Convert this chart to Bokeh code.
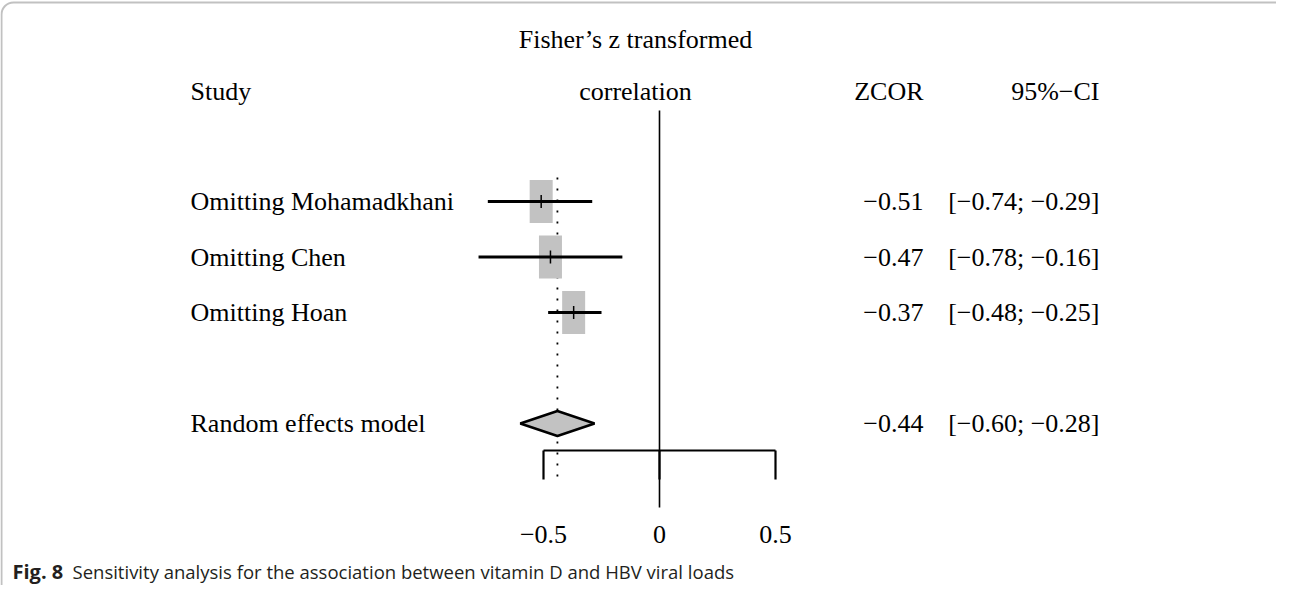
from bokeh.plotting import figure
from bokeh.models import ColumnDataSource, Range1d, BoxAnnotation
from bokeh.core.properties import value
from bokeh.embed import file_html
from bokeh.resources import INLINE

# ---- data ----
studies = ["Omitting Mohamadkhani", "Omitting Chen", "Omitting Hoan"]
zcor = [-0.51, -0.47, -0.37]
ci_lower = [-0.74, -0.78, -0.48]
ci_upper = [-0.29, -0.16, -0.25]
pooled_label = "Random effects model"
pooled_est = -0.44
pooled_lower = -0.60
pooled_upper = -0.28
tick_values = [-0.5, 0, 0.5]
tick_labels = ["\u22120.5", "0", "0.5"]
header_left = "Study"
header_mid = ["Fisher\u2019s z transformed", "correlation"]
header_zcor = "ZCOR"
header_ci = "95%\u2212CI"
caption_bold = "Fig. 8"
caption_text = "Sensitivity analysis for the association between vitamin D and HBV viral loads"

# ---- layout helpers (pixel -> data) ----
W, H = 1276, 585
PX_PER_UNIT = 232.0
X0_SCREEN = 667.0
ROW_PX = 55.5
ROW1_SCREEN = 209.0

def rx(sx):
    return (sx - X0_SCREEN) / PX_PER_UNIT

def ry(sy):
    return 1 + (sy - ROW1_SCREEN) / ROW_PX

def fmt(v):
    return f"{v:.2f}".replace("-", "\u2212")

p = figure(width=W, height=H, output_backend="svg", toolbar_location=None,
           x_range=Range1d(rx(8), rx(8 + W)), y_range=Range1d(ry(8 + H), ry(8)),
           x_axis_type=None, y_axis_type=None, min_border=0)
p.xgrid.visible = False
p.ygrid.visible = False
p.outline_line_color = None
p.background_fill_color = "white"
p.border_fill_color = "white"

FONT = value("Liberation Serif")
FS = "26px"

# frame with rounded corner
p.add_layout(BoxAnnotation(left=rx(9), right=rx(1330), top=ry(10), bottom=ry(700),
                           fill_alpha=0, line_color="#333333", line_width=2,
                           border_radius=12))

rows = list(range(1, len(studies) + 1))
pooled_row = len(studies) + 2

# reference lines
p.segment(x0=[0], y0=[ry(118)], x1=[0], y1=[ry(515)], line_color="black", line_width=1.6)
p.segment(x0=[pooled_est], y0=[ry(185)], x1=[pooled_est], y1=[ry(488)],
          line_color="black", line_width=1.8, line_dash="2 9")

# axis
p.segment(x0=[min(tick_values)], y0=[ry(458)], x1=[max(tick_values)], y1=[ry(458)],
          line_color="black", line_width=2.2)
p.segment(x0=tick_values, y0=[ry(458)] * 3, x1=tick_values, y1=[ry(487)] * 3,
          line_color="black", line_width=2.2)
p.text(x=tick_values, y=[ry(542)] * 3, text=tick_labels, text_font=FONT,
       text_font_size=FS, text_align="center", text_baseline="middle", text_color="black")

# study boxes and CIs
tick_h = 6.5 / ROW_PX
src = ColumnDataSource(dict(y=rows, est=zcor, lo=ci_lower, hi=ci_upper, name=studies,
                            y_top=[r - tick_h for r in rows], y_bot=[r + tick_h for r in rows],
                            zt=[fmt(v) for v in zcor],
                            ci=[f"[{fmt(a)}; {fmt(b)}]" for a, b in zip(ci_lower, ci_upper)]))
p.rect(x="est", y="y", width=23 / PX_PER_UNIT, height=43 / ROW_PX, source=src,
       fill_color="#c2c2c2", line_color=None)
p.segment(x0="lo", y0="y", x1="hi", y1="y", source=src, line_color="black", line_width=3)
p.segment(x0="est", y0="y_top", x1="est", y1="y_bot", source=src,
          line_color="black", line_width=1.5)

# diamond
h = 12.5 / ROW_PX
p.patch(x=[pooled_lower, pooled_est, pooled_upper, pooled_est],
        y=[pooled_row, pooled_row - h, pooled_row, pooled_row + h],
        fill_color="#c2c2c2", line_color="black", line_width=2.5)

# texts
p.text(x=rx(198), y="y", text="name", source=src, text_font=FONT, text_font_size=FS,
       text_align="left", text_baseline="middle", text_color="black")
p.text(x=rx(931), y="y", text="zt", source=src, text_font=FONT, text_font_size=FS,
       text_align="right", text_baseline="middle", text_color="black")
p.text(x=rx(1107), y="y", text="ci", source=src, text_font=FONT, text_font_size=FS,
       text_align="right", text_baseline="middle", text_color="black")

p.text(x=[rx(198)], y=[pooled_row], text=[pooled_label], text_font=FONT, text_font_size=FS,
       text_align="left", text_baseline="middle", text_color="black")
p.text(x=[rx(931)], y=[pooled_row], text=[fmt(pooled_est)], text_font=FONT, text_font_size=FS,
       text_align="right", text_baseline="middle", text_color="black")
p.text(x=[rx(1107)], y=[pooled_row], text=[f"[{fmt(pooled_lower)}; {fmt(pooled_upper)}]"],
       text_font=FONT, text_font_size=FS, text_align="right", text_baseline="middle",
       text_color="black")

# headers
p.text(x=[rx(198)], y=[ry(99)], text=[header_left], text_font=FONT, text_font_size=FS,
       text_align="left", text_baseline="middle", text_color="black")
p.text(x=[rx(643), rx(643)], y=[ry(47), ry(99)], text=header_mid, text_font=FONT,
       text_font_size=FS, text_align="center", text_baseline="middle", text_color="black")
p.text(x=[rx(931)], y=[ry(99)], text=[header_zcor], text_font=FONT, text_font_size=FS,
       text_align="right", text_baseline="middle", text_color="black")
p.text(x=[rx(1107)], y=[ry(99)], text=[header_ci], text_font=FONT, text_font_size=FS,
       text_align="right", text_baseline="middle", text_color="black")

# caption
p.text(x=[rx(20)], y=[ry(579)], text=[caption_bold], text_font=value("Open Sans"),
       text_font_size="20px", text_font_style="bold", text_align="left",
       text_baseline="middle", text_color="#231f20")
p.text(x=[rx(80)], y=[ry(579)], text=[caption_text], text_font=value("Open Sans"),
       text_font_size="18.5px", text_align="left", text_baseline="middle", text_color="#231f20")

open("out.html", "w").write(file_html(p, INLINE))
